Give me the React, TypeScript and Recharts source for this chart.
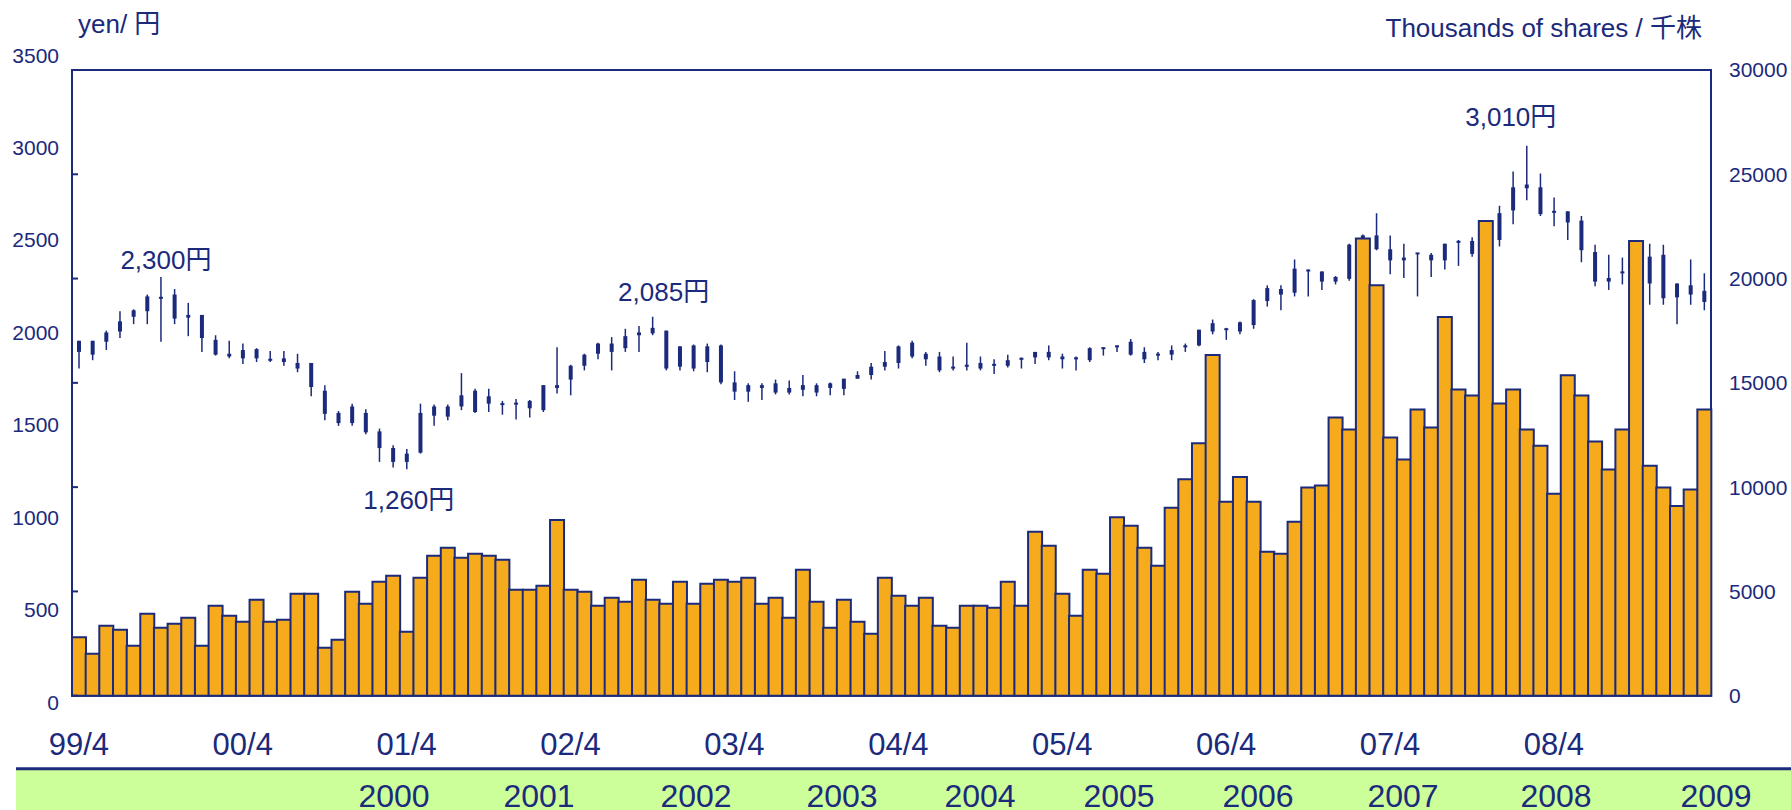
import React from 'react';
import { ComposedChart, Bar, XAxis, YAxis, ReferenceArea } from 'recharts';

// ---- canvas & style ----
const W = 1791;
const H = 810;
const NAVY = '#1B2A7B';
const ORANGE = '#F6AB1D';
const GREEN = '#CCFF99';
const FONT = "'Liberation Sans', Arial, 'Noto Sans CJK JP', sans-serif";

// plot box: price scale spans PLOT_TOP..PLOT_BOTTOM, volume frame spans FRAME_TOP..FRAME_BOTTOM
const PLOT_LEFT = 72;
const PLOT_RIGHT = 1711;
const PLOT_TOP = 55.1;
const PLOT_BOTTOM = 702.3;
const FRAME_TOP = 70;
const FRAME_BOTTOM = 695.7;
const BODY_W = 4;
const WICK_W = 1.5;

// ---- categories: monthly, April 1999 to March 2009 ----
const START_YEAR = 1999;
const START_MONTH = 4;
const MONTH_COUNT = 120;
const months: string[] = Array.from({ length: MONTH_COUNT }, (_, i) => {
  const m = START_MONTH - 1 + i;
  const y = START_YEAR + Math.floor(m / 12);
  return `${String(y % 100).padStart(2, '0')}/${(m % 12) + 1}`;
});
const monthTicks: string[] = months.filter((m) => m.endsWith('/4'));

// ---- axis tick labels ----
const priceTicks = [0, 500, 1000, 1500, 2000, 2500, 3000, 3500];
const volumeTicks = [0, 5000, 10000, 15000, 20000, 25000, 30000];
const fiscalYears = ['2000', '2001', '2002', '2003', '2004', '2005', '2006', '2007', '2008', '2009'];

// ---- monthly share price (yen) ----
const open = [
  1895, 1955, 1950, 2005, 2085, 2115, 2190, 2205, 2080, 2095, 1960, 1885,
  1860, 1910, 1855, 1860, 1835, 1835, 1685, 1565, 1510, 1565, 1465, 1375,
  1300, 1350, 1550, 1600, 1600, 1685, 1615, 1615, 1610, 1630, 1580, 1715,
  1745, 1820, 1885, 1940, 1915, 1985, 1995, 2010, 1815, 1930, 1840, 1930,
  1730, 1680, 1715, 1725, 1675, 1690, 1715, 1700, 1695, 1750, 1770, 1815,
  1835, 1945, 1855, 1870, 1805, 1815, 1835, 1820, 1820, 1855, 1865, 1895,
  1870, 1855, 1850, 1910, 1920, 1950, 1895, 1875, 1880, 1920, 1930, 2005,
  2020, 2005, 2040, 2170, 2235, 2215, 2340, 2330, 2275, 2290, 2440, 2525,
  2450, 2390, 2425, 2420, 2390, 2485, 2495, 2520, 2500, 2660, 2780, 2785,
  2650, 2655, 2605, 2435, 2275, 2320, 2300, 2410, 2185, 2265, 2205, 2225,
];
const high = [
  1955, 1955, 2010, 2115, 2125, 2205, 2300, 2235, 2160, 2095, 1985, 1955,
  1940, 1915, 1900, 1900, 1885, 1835, 1715, 1575, 1615, 1585, 1480, 1390,
  1370, 1615, 1610, 1610, 1780, 1695, 1695, 1630, 1640, 1635, 1715, 1920,
  1825, 1885, 1945, 1975, 2020, 2035, 2085, 2010, 1925, 1935, 1940, 1935,
  1790, 1725, 1725, 1745, 1740, 1770, 1725, 1730, 1750, 1790, 1835, 1900,
  1930, 1955, 1895, 1895, 1870, 1945, 1870, 1855, 1880, 1865, 1895, 1930,
  1885, 1870, 1920, 1920, 1930, 1965, 1920, 1895, 1930, 1940, 2015, 2070,
  2025, 2060, 2180, 2255, 2255, 2395, 2340, 2330, 2305, 2480, 2530, 2645,
  2525, 2480, 2430, 2430, 2480, 2500, 2515, 2590, 2685, 2870, 3010, 2860,
  2730, 2655, 2630, 2475, 2420, 2405, 2470, 2480, 2475, 2265, 2395, 2320,
];
const low = [
  1805, 1850, 1905, 1970, 2045, 2045, 1950, 2045, 1980, 1895, 1875, 1860,
  1830, 1840, 1840, 1820, 1785, 1655, 1525, 1495, 1495, 1450, 1300, 1270,
  1260, 1345, 1495, 1525, 1580, 1565, 1570, 1555, 1530, 1540, 1570, 1670,
  1660, 1795, 1855, 1795, 1895, 1895, 1985, 1795, 1795, 1790, 1785, 1720,
  1635, 1625, 1635, 1665, 1665, 1655, 1655, 1660, 1660, 1750, 1745, 1795,
  1805, 1860, 1820, 1785, 1795, 1795, 1795, 1775, 1810, 1805, 1830, 1850,
  1805, 1795, 1840, 1875, 1895, 1875, 1835, 1850, 1850, 1895, 1925, 1990,
  1960, 1990, 2020, 2140, 2120, 2195, 2195, 2230, 2260, 2280, 2400, 2445,
  2315, 2295, 2195, 2300, 2340, 2360, 2410, 2480, 2465, 2585, 2715, 2630,
  2575, 2500, 2380, 2250, 2230, 2260, 2260, 2150, 2150, 2045, 2150, 2120,
];
const close = [
  1955, 1880, 2000, 2060, 2120, 2195, 2185, 2075, 2095, 1970, 1880, 1870,
  1905, 1860, 1850, 1840, 1805, 1705, 1560, 1510, 1600, 1460, 1375, 1300,
  1345, 1565, 1600, 1545, 1660, 1570, 1655, 1610, 1620, 1590, 1715, 1700,
  1820, 1880, 1940, 1895, 1980, 2000, 2025, 1805, 1925, 1805, 1925, 1730,
  1680, 1715, 1700, 1675, 1700, 1715, 1675, 1725, 1750, 1770, 1815, 1840,
  1925, 1870, 1885, 1795, 1815, 1825, 1805, 1830, 1850, 1860, 1895, 1865,
  1855, 1865, 1915, 1920, 1930, 1880, 1855, 1885, 1905, 1930, 2015, 2050,
  2015, 2055, 2175, 2240, 2205, 2345, 2330, 2275, 2300, 2475, 2525, 2450,
  2390, 2405, 2430, 2390, 2480, 2495, 2425, 2560, 2645, 2785, 2800, 2640,
  2655, 2595, 2445, 2275, 2295, 2330, 2420, 2265, 2420, 2190, 2255, 2165,
];

// ---- monthly trading volume (thousands of shares) ----
const volume = [
  2800, 2010, 3350, 3160, 2400, 3930, 3260, 3450, 3740, 2400, 4310, 3830,
  3550, 4600, 3550, 3640, 4890, 4890, 2300, 2680, 4980, 4410, 5460, 5750,
  3070, 5650, 6710, 7090, 6610, 6800, 6710, 6520, 5080, 5080, 5270, 8430,
  5080, 4980, 4310, 4700, 4500, 5560, 4600, 4410, 5460, 4410, 5370, 5560,
  5460, 5650, 4410, 4700, 3740, 6040, 4500, 3260, 4600, 3550, 2970, 5650,
  4790, 4310, 4700, 3350, 3260, 4310, 4310, 4220, 5460, 4310, 7860, 7190,
  4890, 3830, 6040, 5850, 8560, 8150, 7090, 6230, 9010, 10380, 12100, 16330,
  9300, 10480, 9300, 6900, 6800, 8340, 9980, 10080, 13340, 12760, 21920, 19680,
  12380, 11320, 13720, 12860, 18160, 14680, 14390, 22760, 14010, 14680, 12760, 11990,
  9680, 15370, 14390, 12190, 10840, 12760, 21800, 11020, 9980, 9100, 9890, 13720,
];

// extreme prices called out on the chart
const notes: { month: string; field: 'high' | 'low' }[] = [
  { month: '99/10', field: 'high' },
  { month: '01/4', field: 'low' },
  { month: '02/10', field: 'high' },
  { month: '08/2', field: 'high' },
];
// label placement relative to the wick end [dx, baseline dy]
const NOTE_OFFSET: Record<string, [number, number]> = {
  '99/10': [5, -8],
  '01/4': [2, 40],
  '02/10': [11, -16],
  '08/2': [-16, -20],
};

const rows = months.map((month, i) => ({
  month,
  open: open[i],
  high: high[i],
  low: low[i],
  close: close[i],
  volume: volume[i],
}));

// volume axis is stretched so that 0..30000 spans the frame while the price axis spans the full plot
const VOL_FRAME_MAX = volumeTicks[volumeTicks.length - 1];
const volPx = (FRAME_BOTTOM - FRAME_TOP) / VOL_FRAME_MAX;
const VOL_MIN = -(PLOT_BOTTOM - FRAME_BOTTOM) / volPx;
const VOL_MAX = VOL_FRAME_MAX + (FRAME_TOP - PLOT_TOP) / volPx;

const candleRange = (d: any) => [d.low, d.high];

const Candle = (props: any) => {
  const { x, y, width, height, payload } = props;
  if (x == null || y == null || !payload) return <g />;
  const { open: o, close: c, high: h, low: l, month } = payload;
  const span = h - l || 1;
  const py = (v: number) => y + ((h - v) / span) * height;
  const cx = x + width / 2;
  const top = py(Math.max(o, c));
  const bot = py(Math.min(o, c));
  const bh = Math.max(bot - top, 2);
  const mid = (top + bot) / 2;
  const note = notes.find((n) => n.month === month);
  let label = null;
  if (note) {
    const [dx, dy] = NOTE_OFFSET[month] || [0, 0];
    const value = note.field === 'high' ? h : l;
    const anchorY = note.field === 'high' ? y : y + height;
    label = (
      <text
        x={cx + dx}
        y={anchorY + dy}
        textAnchor="middle"
        fontSize={26}
        fill={NAVY}
        fontFamily={FONT}
      >
        {`${value.toLocaleString('en-US')}円`}
      </text>
    );
  }
  return (
    <g>
      <line x1={cx} x2={cx} y1={y} y2={y + height} stroke={NAVY} strokeWidth={WICK_W} />
      <rect x={cx - BODY_W / 2} y={mid - bh / 2} width={BODY_W} height={bh} fill={NAVY} />
      {label}
    </g>
  );
};

const NoTick = () => <g />;

const yearCenters = [394, 539, 696, 842, 980, 1119, 1258, 1403, 1556, 1716];

export default function App() {
  const axisFont = { fontSize: 21, fill: NAVY, fontFamily: FONT };
  return (
    <div
      style={{
        position: 'absolute',
        left: 0,
        top: 0,
        width: W,
        height: H,
        background: '#ffffff',
        overflow: 'hidden',
        fontFamily: FONT,
      }}
    >
      <ComposedChart
        width={W}
        height={H}
        data={rows}
        barCategoryGap={0}
        barGap={0}
        margin={{ top: PLOT_TOP, bottom: H - PLOT_BOTTOM - 40, left: PLOT_LEFT - 60, right: W - PLOT_RIGHT - 78 }}
      >
        <XAxis xAxisId="v"
          dataKey="month"
          ticks={monthTicks}
          interval={0}
          axisLine={false}
          tickLine={false}
          tickSize={0}
          tickMargin={31}
          height={40}
          tick={{ fontSize: 31, fill: NAVY, fontFamily: FONT }}
        />
        <XAxis xAxisId="c" dataKey="month" hide height={0} />
        <YAxis
          yAxisId="price"
          orientation="left"
          width={60}
          type="number"
          domain={[0, 3500]}
          ticks={priceTicks}
          interval={0}
          allowDataOverflow
          axisLine={false}
          tickLine={false}
          tickSize={0}
          tickMargin={13}
          tick={axisFont}
        />
        <YAxis
          yAxisId="vl"
          orientation="left"
          mirror
          type="number"
          domain={[VOL_MIN, VOL_MAX]}
          ticks={volumeTicks}
          interval={0}
          allowDataOverflow
          axisLine={false}
          tickLine={{ stroke: NAVY, strokeWidth: 2 }}
          tickSize={6}
          tick={NoTick}
        />
        <YAxis
          yAxisId="vol"
          orientation="right"
          width={78}
          type="number"
          domain={[VOL_MIN, VOL_MAX]}
          ticks={volumeTicks}
          interval={0}
          allowDataOverflow
          axisLine={false}
          tickLine={false}
          tickSize={0}
          tickMargin={18}
          tick={axisFont}
        />
        <Bar
          xAxisId="c"
          yAxisId="price"
          dataKey={candleRange}
          shape={Candle}
          isAnimationActive={false}
        />
        <Bar
          xAxisId="v"
          yAxisId="vol"
          dataKey="volume"
          fill={ORANGE}
          stroke={NAVY}
          strokeWidth={2}
          isAnimationActive={false}
        />
        <ReferenceArea
          xAxisId="v"
          yAxisId="vol"
          y1={0}
          y2={VOL_FRAME_MAX}
          fill="none"
          stroke={NAVY}
          strokeWidth={2}
        />
      </ComposedChart>
      <svg
        width={W}
        height={H}
        style={{ position: 'absolute', left: 0, top: 0, pointerEvents: 'none' }}
      >
        <text x={78} y={33} fontSize={26} fill={NAVY} fontFamily={FONT}>
          yen/ 円
        </text>
        <text x={1702} y={37} fontSize={26} fill={NAVY} fontFamily={FONT} textAnchor="end">
          Thousands of shares / 千株
        </text>
        <rect x={16} y={768} width={W - 16} height={H - 768} fill={GREEN} />
        <line x1={16} x2={W} y1={768.8} y2={768.8} stroke={NAVY} strokeWidth={3} />
        {fiscalYears.map((yr, i) => (
          <text
            key={yr}
            x={yearCenters[i]}
            y={806.5}
            fontSize={32}
            fill={NAVY}
            fontFamily={FONT}
            textAnchor="middle"
          >
            {yr}
          </text>
        ))}
      </svg>
    </div>
  );
}
